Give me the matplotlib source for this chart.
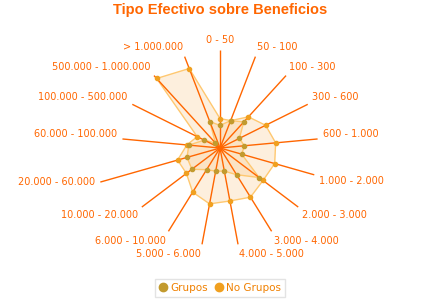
import numpy as np
import matplotlib
matplotlib.use('Agg')
import matplotlib.pyplot as plt
from matplotlib.lines import Line2D

categories = ["0 - 50", "50 - 100", "100 - 300", "300 - 600", "600 - 1.000",
              "1.000 - 2.000", "2.000 - 3.000", "3.000 - 4.000", "4.000 - 5.000",
              "5.000 - 6.000", "6.000 - 10.000", "10.000 - 20.000", "20.000 - 60.000",
              "60.000 - 100.000", "100.000 - 500.000", "500.000 - 1.000.000", "> 1.000.000"]
grupos = [23, 30, 36, 22, 25, 23, 50, 32, 24, 24, 26, 36, 35, 32, 18, 7, 29]
no_grupos = [30, 30, 43, 52, 57, 58, 55, 59, 55, 58, 53, 43, 45, 34, 26, 96, 87]
series_names = ["Grupos", "No Grupos"]
marker_colors = ["#C29A2E", "#F0A020"]
title = "Tipo Efectivo sobre Beneficios"

orange = "#FF6600"
fig = plt.figure(figsize=(4.4, 3.0), dpi=100)
ax = fig.add_axes([0.2773, 0.18, 0.4455, 0.6533], projection='polar')
ax.set_theta_zero_location('N')
ax.set_theta_direction(-1)
ax.set_ylim(0, 100)
ax.axis('off')

n = len(categories)
theta = np.arange(n) * 2 * np.pi / n
# the "20.000 - 60.000" axis is drawn longer in the original
axis_len = [100] * n
axis_len[12] = 127

for t, L in zip(theta, axis_len):
    ax.plot([t, t], [0, L], color=orange, lw=1, zorder=3, solid_capstyle='butt', clip_on=False)

for vals, mc in zip([no_grupos, grupos], [marker_colors[1], marker_colors[0]]):
    tt = np.append(theta, theta[0])
    vv = np.append(vals, vals[0])
    ax.fill(tt, vv, color="#F9C27A", alpha=0.25, zorder=1, lw=0)
    ax.plot(tt, vv, color="#FFC870", lw=1, zorder=2)
    ax.plot(theta, vals, 'o', ms=3, color=mc, mec=mc, zorder=4)

d = 3.6
for i, (t, lab, L) in enumerate(zip(theta, categories, axis_len)):
    s, c = np.sin(t), np.cos(t)
    ha = 'left' if s > 0.05 else ('right' if s < -0.05 else 'center')
    va = 'bottom' if c > 0 else 'top'
    off = (d * s, d * c)
    if L > 100:
        va = 'center'
        off = (d * s, 0)
    ax.annotate(lab, xy=(t, L), xytext=off, textcoords='offset points',
                ha=ha, va=va, fontsize=7, color=orange, annotation_clip=False,
                family='DejaVu Sans')

fig.text(0.5, 1 - 10 / 300, title, ha='center', va='center', fontsize=10.5,
         fontweight='bold', family='Liberation Sans', color=orange)

handles = [Line2D([], [], marker='o', ls='none', ms=6, color=c, mec=c) for c in marker_colors]
leg = fig.legend(handles, series_names, loc='center', bbox_to_anchor=(0.5, 1 - 288 / 300),
                 ncol=2, frameon=True, fancybox=False, fontsize=7.5, handlelength=0.8,
                 handletextpad=0.3, columnspacing=0.6, borderpad=0.35, labelcolor="#F08000")
leg.get_frame().set_edgecolor("#DDDDDD")
leg.get_frame().set_linewidth(1)

fig.savefig("out.png", dpi=100)
